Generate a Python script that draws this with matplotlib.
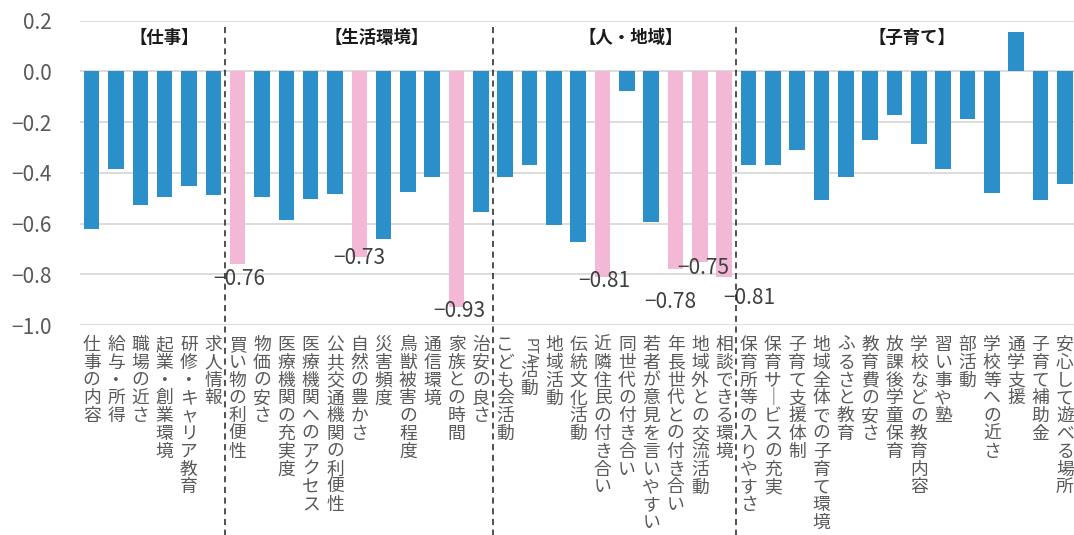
import numpy as np
import matplotlib
matplotlib.use("Agg")
import matplotlib.pyplot as plt

plt.rcParams['font.family'] = ['Noto Sans CJK JP', 'DejaVu Sans']

# items, grouped
items = [
    "仕事の内容", "給与・所得", "職場の近さ", "起業・創業環境", "研修・キャリア教育", "求人情報",
    "買い物の利便性", "物価の安さ", "医療機関の充実度", "医療機関へのアクセス", "公共交通機関の利便性",
    "自然の豊かさ", "災害頻度", "鳥獣被害の程度", "通信環境", "家族との時間", "治安の良さ",
    "こども会活動", "PTA活動", "地域活動", "伝統文化活動", "近隣住民の付き合い", "同世代の付き合い",
    "若者が意見を言いやすい", "年長世代との付き合い", "地域外との交流活動", "相談できる環境",
    "保育所等の入りやすさ", "保育サービスの充実", "子育て支援体制", "地域全体での子育て環境",
    "ふるさと教育", "教育費の安さ", "放課後学童保育", "学校などの教育内容", "習い事や塾", "部活動",
    "学校等への近さ", "通学支援", "子育て補助金", "安心して遊べる場所",
]
values = [
    -0.62, -0.385, -0.527, -0.495, -0.451, -0.487,
    -0.76, -0.495, -0.587, -0.503, -0.484, -0.73, -0.66, -0.474, -0.415, -0.93, -0.554,
    -0.416, -0.371, -0.605, -0.674, -0.81, -0.079, -0.593, -0.78, -0.75, -0.81,
    -0.368, -0.371, -0.309, -0.509, -0.417, -0.272, -0.171, -0.285, -0.385, -0.187,
    -0.48, 0.154, -0.507, -0.442,
]
highlight = [6, 11, 15, 21, 24, 25, 26]
group_names = ["【仕事】", "【生活環境】", "【人・地域】", "【子育て】"]
group_x = [2.97, 11.7, 22.15, 33.7]
separators = [5.5, 16.5, 26.5]
# pixel offsets of the value labels (dx, dy below bar end)
label_offsets = {6: (2, 15), 11: (0, 1), 15: (3, 4), 21: (1.5, 4), 24: (-5, 33), 25: (3, 6), 26: (25, 21)}

blue = "#2b8fca"
pink = "#f2b8d6"

fig = plt.figure(figsize=(10.74, 5.35), dpi=100)
ax = fig.add_axes([79.5 / 1074, 1 - 325 / 535, (1077 - 79.5) / 1074, (325 - 20.7) / 535])

x = np.arange(len(items))
colors = [pink if i in highlight else blue for i in x]
ax.bar(x, values, width=0.64, color=colors, zorder=2)

ax.set_xlim(-0.5, len(items) - 0.5)
ax.set_ylim(-1.0, 0.2)
yt = np.arange(-1.0, 0.21, 0.2)
ax.set_yticks(yt)
ax.set_yticklabels([f"{round(v, 1) + 0.0:.1f}".replace("-", "−") for v in yt], fontsize=15, color="#595959")
ax.tick_params(axis="y", length=0, pad=20)
ax.set_xticks([])
ax.grid(axis="y", color="#d9d9d9", lw=1.3, zorder=0)
ax.set_axisbelow(True)
for s in ax.spines.values():
    s.set_visible(False)

# value labels on highlighted bars
for i in highlight:
    dx, dy = label_offsets[i]
    ax.annotate(f"{values[i]:.2f}".replace("-", "−"), xy=(i, values[i]), xytext=(dx, -dy),
                textcoords="offset pixels", ha="center", va="center",
                fontsize=15, color="#404040", zorder=3)

# group titles
for name, gx in zip(group_names, group_x):
    ax.text(gx, 0.13, name, ha="center", va="center", fontsize=12.5, fontweight="bold", color="#1a1a1a")

# dashed separators running into the label area
tr = ax.get_xaxis_transform()
for sx in separators:
    ax.plot([sx, sx], [0.979, -0.72], transform=tr, color="#202020", lw=1.1,
            ls=(0, (4, 3)), clip_on=False, zorder=3)

# vertical (tategaki) category labels
step = 17.8
for i, name in enumerate(items):
    off = 11
    k = 0
    while k < len(name):
        ch = name[k]
        if ch.isascii():
            run = ""
            while k < len(name) and name[k].isascii():
                run += name[k]
                k += 1
            ax.annotate(run, xy=(i, 0), xycoords=tr, xytext=(0, -off - 2), textcoords="offset pixels",
                        ha="center", va="top", rotation=-90, fontsize=10, color="#595959",
                        annotation_clip=False)
            off += 26
            continue
        if ch == "ー":
            ch = "｜"
        ax.annotate(ch, xy=(i, 0), xycoords=tr, xytext=(0, -off), textcoords="offset pixels",
                    ha="center", va="top", fontsize=12.8, color="#595959", annotation_clip=False)
        off += step
        k += 1

fig.savefig("out.png", dpi=100)
